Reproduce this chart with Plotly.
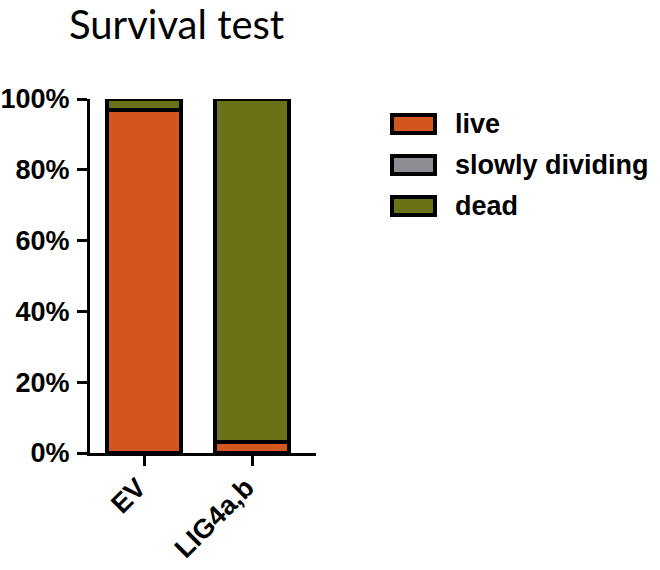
import plotly.graph_objects as go

categories = ["EV", "LIG4a,b"]
series_names = ["live", "slowly dividing", "dead"]
live = [97, 3]
slowly_dividing = [0, 0]
dead = [3, 97]
series_values = [live, slowly_dividing, dead]
colors = ["#D4561F", "#8C8C91", "#6B7117"]
y_ticks = [0, 20, 40, 60, 80, 100]
y_tick_labels = [f"{v}%" for v in y_ticks]

PW, PH = 226, 354   # plot area size in px
X0, Y0 = 90, 453    # plot-area left and bottom in page px

fig = go.Figure()
for name, vals, col in zip(series_names, series_values, colors):
    fig.add_trace(go.Bar(
        x=categories, y=vals, name=name, width=0.68,
        marker=dict(color=col, line=dict(color="black", width=4)),
        showlegend=False,
    ))

# legend drawn as swatches + labels
leg_x0, leg_y0, leg_dy = 392, 124, 41
shapes = []
annotations = []
for i, (name, col) in enumerate(zip(series_names, colors)):
    yc = leg_y0 + i * leg_dy
    shapes.append(dict(type="rect", xref="paper", yref="paper",
                       x0=(leg_x0 - X0) / PW, x1=(leg_x0 + 43 - X0) / PW,
                       y0=(Y0 - (yc - 9)) / PH, y1=(Y0 - (yc + 9)) / PH,
                       fillcolor=col, line=dict(color="black", width=4)))
    annotations.append(dict(xref="paper", yref="paper",
                            x=(453 - X0) / PW, y=(Y0 - yc) / PH,
                            text=f"<b>{name}</b>", showarrow=False,
                            xanchor="left", yanchor="middle",
                            font=dict(family="Liberation Sans, Arial", size=27, color="black")))

annotations.append(dict(xref="paper", yref="paper", x=(176 - X0) / PW, y=(Y0 - 24.5) / PH,
                        text="Survival test", showarrow=False, xanchor="center", yanchor="middle",
                        font=dict(family="Lato, Open Sans", size=40, color="black")))

fig.update_layout(
    width=660, height=570,
    margin=dict(l=X0, r=660 - X0 - PW, t=Y0 - PH, b=570 - Y0),
    barmode="stack",
    plot_bgcolor="white", paper_bgcolor="white",
    shapes=shapes, annotations=annotations,
    xaxis=dict(range=[-0.5, 1.59], showline=True, linecolor="black", linewidth=3,
               ticks="outside", ticklen=10, tickwidth=3, tickcolor="black",
               tickangle=-45, showgrid=False, zeroline=False, automargin=False,
               ticklabelshift=-6, ticklabelstandoff=-5,
               tickfont=dict(family="Liberation Sans, Arial", size=27, color="black", weight="bold")),
    yaxis=dict(range=[0, 100], tickvals=y_ticks, ticktext=y_tick_labels,
               showline=True, linecolor="black", linewidth=3,
               ticks="outside", ticklen=10, tickwidth=3, tickcolor="black",
               showgrid=False, zeroline=False, automargin=False,
               ticklabelstandoff=2,
               tickfont=dict(family="Liberation Sans, Arial", size=27, color="black", weight="bold")),
)

fig.write_html("out.html", config={"displayModeBar": False},
               post_script="document.body.style.margin='0';")
